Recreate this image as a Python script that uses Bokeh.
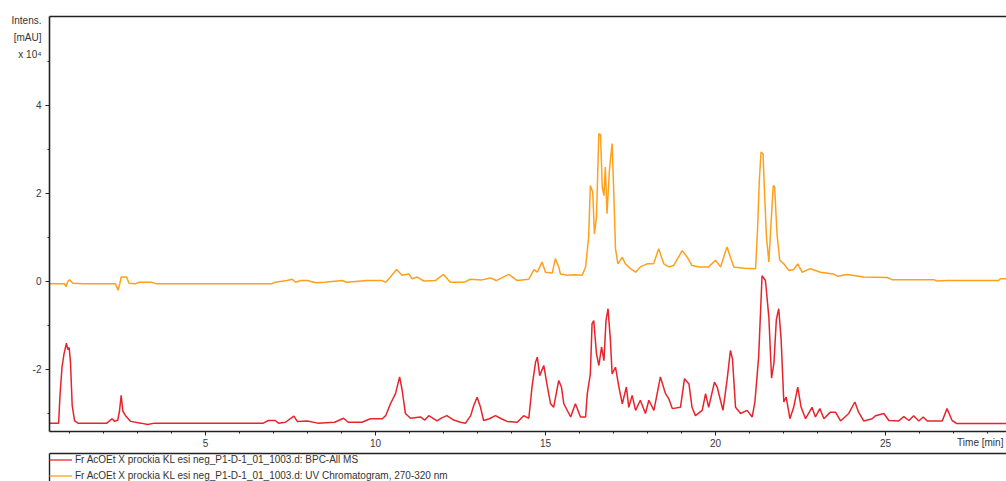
from bokeh.plotting import figure
from bokeh.models import (Range1d, LinearAxis, SingleIntervalTicker, FixedTicker,
                          Legend, LegendItem)
from bokeh.layouts import column
from bokeh.embed import file_html
from bokeh.resources import INLINE

# ---------------- data (time in min, intensity x10^4 mAU, as plotted) -------------
bpc_time = [0.41, 0.60, 0.68, 0.72, 0.78, 0.84, 0.91, 0.95, 0.99, 1.03, 1.08, 1.15, 1.25,
            2.10, 2.25, 2.33, 2.42, 2.47, 2.52, 2.57, 2.65, 2.80, 3.10, 3.30, 3.50,
            6.70, 6.85, 7.05, 7.15, 7.35, 7.60, 7.70, 8.00, 8.30, 8.80, 9.06, 9.20, 9.60,
            9.85, 10.20, 10.30, 10.44, 10.59, 10.71, 10.78, 10.88, 11.03, 11.32, 11.45,
            11.57, 11.81, 11.95, 12.10, 12.30, 12.50, 12.65, 12.80, 12.89, 12.99, 13.09,
            13.18, 13.35, 13.53, 13.70, 13.87, 14.17, 14.36, 14.51, 14.61, 14.71, 14.76,
            14.83, 14.95, 15.05, 15.15, 15.24, 15.39, 15.47, 15.54, 15.74, 15.88, 16.03,
            16.18, 16.23, 16.32, 16.37, 16.42, 16.50, 16.57, 16.65, 16.72, 16.78, 16.84,
            16.91, 16.96, 17.06, 17.16, 17.26, 17.38, 17.45, 17.55, 17.65, 17.79, 17.94,
            18.04, 18.19, 18.38, 18.53, 18.63, 18.73, 18.97, 19.09, 19.22, 19.31, 19.41,
            19.61, 19.71, 19.80, 19.97, 20.05, 20.22, 20.34, 20.44, 20.50, 20.59, 20.74,
            20.93, 21.08, 21.16, 21.27, 21.37, 21.47, 21.57, 21.65, 21.72, 21.79, 21.86,
            21.93, 22.01, 22.08, 22.19, 22.30, 22.42, 22.52, 22.65, 22.84, 22.94, 23.07,
            23.19, 23.38, 23.53, 23.68, 23.92, 24.10, 24.21, 24.36, 24.61, 24.71, 24.95,
            25.10, 25.39, 25.54, 25.69, 25.83, 25.98, 26.11, 26.23, 26.67, 26.81, 26.96,
            27.10, 28.56]
bpc_value = [-3.22, -3.22, -3.22, -2.60, -1.95, -1.64, -1.40, -1.55, -1.50, -1.85, -2.82, -3.17, -3.22,
             -3.22, -3.12, -3.18, -3.15, -2.95, -2.59, -2.95, -3.05, -3.18, -3.22, -3.25, -3.22,
             -3.22, -3.16, -3.16, -3.22, -3.20, -3.06, -3.18, -3.17, -3.22, -3.20, -3.11, -3.20, -3.20,
             -3.12, -3.12, -3.05, -2.78, -2.55, -2.17, -2.45, -3.00, -3.11, -3.08, -3.15,
             -3.05, -3.17, -3.10, -3.05, -3.15, -3.20, -3.22, -3.05, -2.82, -2.63, -2.86,
             -3.16, -3.12, -3.05, -3.12, -3.18, -3.20, -3.05, -3.11, -2.36, -1.83, -1.72,
             -2.14, -1.91, -2.36, -2.78, -2.86, -2.25, -2.40, -2.78, -3.08, -2.78, -3.08,
             -3.08, -2.55, -2.10, -0.96, -0.89, -1.64, -1.91, -1.49, -1.80, -0.89, -0.62,
             -1.34, -2.10, -1.95, -2.40, -2.78, -2.40, -2.86, -2.59, -2.93, -2.70, -3.00,
             -2.70, -2.93, -2.17, -2.55, -2.67, -2.89, -2.86, -2.21, -2.33, -2.86, -3.05,
             -2.93, -2.55, -2.86, -2.29, -2.40, -2.93, -2.25, -1.57, -1.76, -2.86, -3.00,
             -2.93, -3.08, -2.74, -1.72, 0.13, 0.02, -0.81, -2.20, -1.85, -0.87, -0.62,
             -1.30, -2.74, -2.63, -3.12, -2.86, -2.40, -2.86, -3.12, -2.86, -3.08, -2.89,
             -3.12, -2.97, -2.97, -3.17, -3.00, -2.74, -2.97, -3.17, -3.12, -3.05, -3.00,
             -3.16, -3.17, -3.07, -3.16, -3.05, -3.17, -3.08, -3.17, -3.17, -2.89, -3.16,
             -3.23, -3.23]

uv_time = [0.41, 0.85, 0.90, 0.95, 1.00, 1.05, 1.10, 1.40, 2.35, 2.43, 2.48, 2.52, 2.68, 2.75,
           2.95, 3.05, 3.40, 3.55, 6.95, 7.05, 7.40, 7.55, 7.65, 7.80, 8.00, 8.24, 8.50, 9.02,
           9.15, 9.75, 10.20, 10.30, 10.44, 10.62, 10.78, 10.98, 11.08, 11.23, 11.42, 11.76,
           12.00, 12.20, 12.60, 12.79, 13.10, 13.38, 13.55, 13.92, 14.17, 14.51, 14.66, 14.76,
           14.90, 15.00, 15.20, 15.29, 15.39, 15.44, 15.64, 15.83, 16.08, 16.18, 16.27, 16.32,
           16.39, 16.44, 16.50, 16.57, 16.62, 16.67, 16.72, 16.76, 16.81, 16.88, 16.96, 17.01,
           17.06, 17.13, 17.26, 17.35, 17.50, 17.65, 17.79, 17.99, 18.18, 18.33, 18.48, 18.63,
           18.77, 19.02, 19.17, 19.31, 19.51, 19.80, 20.00, 20.15, 20.29, 20.34, 20.44, 20.54,
           20.83, 21.18, 21.24, 21.29, 21.34, 21.40, 21.44, 21.50, 21.57, 21.64, 21.70, 21.74,
           21.81, 21.89, 22.01, 22.16, 22.30, 22.42, 22.55, 22.79, 23.09, 23.47, 23.58, 23.87,
           24.36, 25.05, 25.19, 26.42, 26.52, 26.81, 28.33, 28.38, 28.56]
uv_value = [-0.05, -0.05, -0.12, 0.00, 0.04, 0.00, -0.04, -0.05, -0.05, -0.20, -0.05, 0.10, 0.10, -0.04,
            -0.05, -0.02, -0.02, -0.05, -0.05, -0.02, 0.02, 0.05, -0.02, 0.02, 0.02, -0.03, -0.02, 0.02,
            -0.02, 0.02, 0.02, -0.02, 0.10, 0.27, 0.14, 0.17, 0.06, 0.10, 0.01, 0.02,
            0.16, -0.02, -0.02, 0.05, 0.03, 0.08, 0.02, 0.16, 0.02, 0.05, 0.27, 0.21,
            0.44, 0.21, 0.19, 0.52, 0.33, 0.17, 0.14, 0.15, 0.14, 0.33, 1.01, 2.18,
            2.03, 1.08, 1.46, 3.36, 3.33, 2.14, 1.95, 2.60, 1.54, 2.52, 3.13, 1.99,
            0.74, 0.40, 0.55, 0.40, 0.29, 0.21, 0.33, 0.40, 0.40, 0.74, 0.40, 0.33,
            0.36, 0.70, 0.55, 0.36, 0.33, 0.33, 0.48, 0.33, 0.67, 0.78, 0.55, 0.33,
            0.30, 0.29, 1.23, 2.30, 2.94, 2.90, 2.07, 1.01, 0.44, 1.39, 2.18, 2.15,
            1.08, 0.48, 0.40, 0.25, 0.27, 0.40, 0.21, 0.29, 0.21, 0.17, 0.12, 0.16,
            0.10, 0.09, 0.04, 0.04, 0.01, 0.02, 0.02, 0.06, 0.06]

series_labels = ["Fr AcOEt X prockia KL esi neg_P1-D-1_01_1003.d: BPC-All MS",
                 "Fr AcOEt X prockia KL esi neg_P1-D-1_01_1003.d: UV Chromatogram, 270-320 nm"]
y_major_ticks = [-2, 0, 2, 4]
y_minor_ticks = [-3, -1, 1, 3, 5]
y_title_lines = ["Intens.", "[mAU]", "x 10\u2074"]
x_title = "Time [min]"

# layout constants (where the axis titles sit, in axis units)
Y_TITLE_AT = [5.93, 5.545, 5.16]
X_TITLE_AT = 27.97

RED = "#E8232B"
ORANGE = "#FFA01C"
FONT = "Liberation Sans"
TXT = "#3a3a44"
AX = "#222222"

# ---------------- main chart ----------------
p = figure(width=1006, height=452, output_backend="svg", toolbar_location=None,
           x_range=Range1d(0.412, 28.56), y_range=Range1d(-3.41, 6.02),
           min_border_left=49, min_border_right=0, min_border_top=16, min_border_bottom=21,
           outline_line_color=None, x_axis_type=None, y_axis_type=None,
           background_fill_color="white", border_fill_color="white")

p.line(bpc_time, bpc_value, line_color=RED, line_width=1.5)
p.line(uv_time, uv_value, line_color=ORANGE, line_width=1.5)

def style_axis(ax):
    ax.axis_line_color = AX
    ax.axis_line_width = 1.6
    ax.major_tick_line_color = AX
    ax.minor_tick_line_color = AX
    ax.major_tick_in = 0
    ax.minor_tick_in = 0
    ax.major_tick_out = 4
    ax.minor_tick_out = 2
    ax.major_label_text_font = FONT
    ax.major_label_text_font_size = "10px"
    ax.major_label_text_color = TXT
    ax.major_label_standoff = 3

def title_axis(ticks, labels, standoff):
    a = LinearAxis(ticker=FixedTicker(ticks=ticks),
                   major_label_overrides={t: s for t, s in zip(ticks, labels)})
    a.axis_line_color = None
    a.major_tick_line_color = None
    a.minor_tick_line_color = None
    a.major_tick_out = 0
    a.major_tick_in = 0
    a.minor_tick_out = 0
    a.minor_tick_in = 0
    a.major_label_standoff = standoff
    a.major_label_text_font = FONT
    a.major_label_text_font_size = "10px"
    a.major_label_text_color = "#333333"
    return a

def bare_axis(width):
    a = LinearAxis(ticker=FixedTicker(ticks=[]))
    a.axis_line_color = AX
    a.axis_line_width = width
    a.major_tick_out = 0
    a.major_tick_in = 0
    a.minor_tick_out = 0
    a.minor_tick_in = 0
    a.major_label_standoff = 0
    a.major_label_text_font_size = "0px"
    return a

xax = LinearAxis(ticker=SingleIntervalTicker(interval=5, num_minor_ticks=5))
style_axis(xax)
p.add_layout(xax, "below")
p.add_layout(title_axis([X_TITLE_AT], [x_title], -13), "below")

yax = LinearAxis(ticker=FixedTicker(ticks=y_major_ticks, minor_ticks=y_minor_ticks))
style_axis(yax)
yax.major_label_standoff = 4
yax.major_label_overrides = {t: str(t) for t in y_major_ticks}
p.add_layout(yax, "left")
p.add_layout(title_axis(Y_TITLE_AT, y_title_lines, -12), "left")

p.add_layout(bare_axis(1.6), "above")

# ---------------- legend strip ----------------
q = figure(width=1006, height=29, output_backend="svg", toolbar_location=None,
           x_range=Range1d(-3, -2), y_range=Range1d(-3, -2),
           min_border_left=49, min_border_right=0, min_border_top=1, min_border_bottom=0,
           outline_line_color=None, x_axis_type=None, y_axis_type=None,
           background_fill_color="white", border_fill_color="white")
q.add_layout(bare_axis(1.4), "above")
q.add_layout(bare_axis(1.4), "left")

r1 = q.line(bpc_time, bpc_value, line_color=RED, line_width=1.3)
r2 = q.line(uv_time, uv_value, line_color=ORANGE, line_width=1.3)
leg = Legend(items=[LegendItem(label=series_labels[0], renderers=[r1]),
                    LegendItem(label=series_labels[1], renderers=[r2])],
             location="top_left", border_line_color=None, background_fill_alpha=0,
             margin=0, padding=2, spacing=3, glyph_width=23, glyph_height=13,
             label_height=13, label_standoff=3, label_text_font=FONT,
             label_text_font_size="10px", label_text_color="#333333")
q.add_layout(leg)

layout = column(p, q, spacing=0)
open("out.html", "w").write(file_html(layout, INLINE))
